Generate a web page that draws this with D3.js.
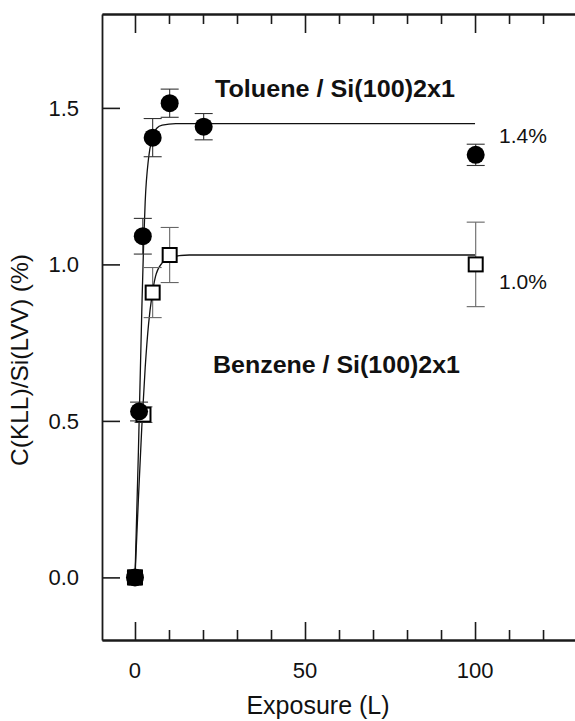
<!DOCTYPE html>
<html>
<head>
<meta charset="utf-8">
<script src="https://cdn.jsdelivr.net/npm/d3@7"></script>
<style>
  html, body { margin: 0; padding: 0; background: #fff; }
  svg { display: block; font-family: "Liberation Sans", Arial, Helvetica, sans-serif; }
</style>
</head>
<body>
<svg id="chart" width="575" height="721"></svg>
<script>
// Exposure (Langmuir) and C(KLL)/Si(LVV) ratio for the two adsorbates
const tolueneExposure = [0, 1.2, 2.3, 5.2, 10.2, 20.2, 100.2];
const tolueneRatio    = [0, 0.53, 1.09, 1.405, 1.515, 1.44, 1.35];
const tolueneError    = [0, 0.03, 0.057, 0.061, 0.045, 0.042, 0.034];

const benzeneExposure = [0, 2.5, 5.2, 10.2, 100.2];
const benzeneRatio    = [0, 0.52, 0.91, 1.03, 1.0];
const benzeneError    = [0, 0.025, 0.08, 0.088, 0.135];

// Saturation fit curves (exposure, ratio)
const tolueneFitX = [0, 1, 2, 2.5, 3, 4, 5, 6.4, 8, 12, 100];
const tolueneFitY = [0, 0.40, 0.85, 1.05, 1.2, 1.34, 1.40, 1.435, 1.445, 1.45, 1.45];
const benzeneFitX = [0, 1, 2, 3, 4, 5, 6, 8, 10, 16, 100];
const benzeneFitY = [0, 0.25, 0.48, 0.67, 0.81, 0.90, 0.96, 1.005, 1.022, 1.03, 1.03];

const xMajorTicks = [0, 50, 100];
const xMinorTicks = [10, 20, 30, 40, 60, 70, 80, 90, 110, 120];
const yMajorTicks = [0, 0.5, 1.0, 1.5];

const seriesLabels = ["Toluene / Si(100)2x1", "Benzene / Si(100)2x1"];
const saturationLabels = ["1.4%", "1.0%"];
const saturationValues = [1.45, 1.03];

const svg = d3.select("#chart");
const plotLeft = 102, plotTop = 14, plotBottom = 640, plotRight = 575;

const x = d3.scaleLinear().domain([-9.7, 129.4]).range([plotLeft, plotRight]);
const y = d3.scaleLinear().domain([-0.2, 1.8]).range([plotBottom, plotTop]);

const axisColor = "#1a1a1a";

function styleAxis(g) {
  g.selectAll("path.domain").attr("stroke", axisColor).attr("stroke-width", 1.8);
  g.selectAll(".tick line").attr("stroke", axisColor).attr("stroke-width", 1.6);
  g.selectAll(".tick text").remove();
}

// top frame with inward ticks
svg.append("g").attr("transform", `translate(0,${plotTop})`)
  .call(d3.axisBottom(x).tickValues(xMajorTicks).tickSizeInner(19).tickSizeOuter(0))
  .call(styleAxis);
svg.append("g").attr("transform", `translate(0,${plotTop})`)
  .call(d3.axisBottom(x).tickValues(xMinorTicks).tickSizeInner(10).tickSizeOuter(0))
  .call(styleAxis);

// bottom axis with inward ticks
svg.append("g").attr("transform", `translate(0,${plotBottom})`)
  .call(d3.axisTop(x).tickValues(xMajorTicks).tickSizeInner(18).tickSizeOuter(0))
  .call(styleAxis);
svg.append("g").attr("transform", `translate(0,${plotBottom})`)
  .call(d3.axisTop(x).tickValues(xMinorTicks).tickSizeInner(10).tickSizeOuter(0))
  .call(styleAxis);

// left axis with inward ticks
svg.append("g").attr("transform", `translate(${plotLeft},0)`)
  .call(d3.axisRight(y).tickValues(yMajorTicks).tickSizeInner(18).tickSizeOuter(0))
  .call(styleAxis);

// tick labels
svg.append("g").selectAll("text").data(xMajorTicks).join("text")
  .attr("x", d => x(d)).attr("y", 678)
  .attr("text-anchor", "middle")
  .attr("font-size", 22).attr("fill", "#111")
  .text(d => d3.format("d")(d));

svg.append("g").selectAll("text").data(yMajorTicks).join("text")
  .attr("x", 79).attr("y", d => y(d) + 8)
  .attr("text-anchor", "end")
  .attr("font-size", 22).attr("fill", "#111")
  .text(d => d3.format(".1f")(d));

// axis titles
svg.append("text")
  .attr("x", 318).attr("y", 714)
  .attr("text-anchor", "middle")
  .attr("font-size", 25).attr("fill", "#111")
  .text("Exposure (L)");

svg.append("text")
  .attr("transform", "translate(28,360) rotate(-90)")
  .attr("text-anchor", "middle")
  .attr("font-size", 24.5).attr("fill", "#111")
  .text("C(KLL)/Si(LVV) (%)");

// fit curves
const fitLine = d3.line().x(d => x(d[0])).y(d => y(d[1])).curve(d3.curveMonotoneX);
[[tolueneFitX, tolueneFitY], [benzeneFitX, benzeneFitY]].forEach(([fx, fy]) => {
  svg.append("path")
    .datum(fx.map((v, i) => [v, fy[i]]))
    .attr("d", fitLine)
    .attr("fill", "none")
    .attr("stroke", "#111")
    .attr("stroke-width", 1.3);
});

// error bars
function errorBars(xs, ys, es, colour) {
  const g = svg.append("g").attr("stroke", colour).attr("stroke-width", 1.1);
  xs.forEach((xv, i) => {
    if (es[i] <= 0) return;
    const cx = x(xv), y1 = y(ys[i] + es[i]), y2 = y(ys[i] - es[i]);
    g.append("line").attr("x1", cx).attr("x2", cx).attr("y1", y1).attr("y2", y2);
    g.append("line").attr("x1", cx - 9).attr("x2", cx + 9).attr("y1", y1).attr("y2", y1);
    g.append("line").attr("x1", cx - 9).attr("x2", cx + 9).attr("y1", y2).attr("y2", y2);
  });
}
errorBars(benzeneExposure, benzeneRatio, benzeneError, "#666");
errorBars(tolueneExposure, tolueneRatio, tolueneError, "#333");

// benzene: open squares
svg.append("g").selectAll("rect").data(benzeneExposure).join("rect")
  .attr("x", (d) => x(d) - 7)
  .attr("y", (d, i) => y(benzeneRatio[i]) - 7)
  .attr("width", 14).attr("height", 14)
  .attr("fill", "#fff").attr("stroke", "#000").attr("stroke-width", 2);

// toluene: filled circles
svg.append("g").selectAll("circle").data(tolueneExposure).join("circle")
  .attr("cx", d => x(d))
  .attr("cy", (d, i) => y(tolueneRatio[i]))
  .attr("r", 9)
  .attr("fill", "#000");

// square at the origin drawn filled where both series overlap
svg.append("rect")
  .attr("x", x(benzeneExposure[0]) - 8).attr("y", y(benzeneRatio[0]) - 8)
  .attr("width", 16).attr("height", 16).attr("rx", 2)
  .attr("fill", "#000");

// series labels
svg.append("text")
  .attr("x", 215).attr("y", 97)
  .attr("font-size", 24).attr("font-weight", "bold").attr("fill", "#111")
  .attr("textLength", 240).attr("lengthAdjust", "spacingAndGlyphs")
  .text(seriesLabels[0]);
svg.append("text")
  .attr("x", 213).attr("y", 373)
  .attr("font-size", 24).attr("font-weight", "bold").attr("fill", "#111")
  .attr("textLength", 247).attr("lengthAdjust", "spacingAndGlyphs")
  .text(seriesLabels[1]);

// saturation levels
svg.append("text")
  .attr("x", 499).attr("y", y(saturationValues[0]) + 19)
  .attr("font-size", 21).attr("fill", "#111")
  .text(saturationLabels[0]);
svg.append("text")
  .attr("x", 499).attr("y", y(saturationValues[1]) + 34)
  .attr("font-size", 21).attr("fill", "#111")
  .text(saturationLabels[1]);
</script>
</body>
</html>
